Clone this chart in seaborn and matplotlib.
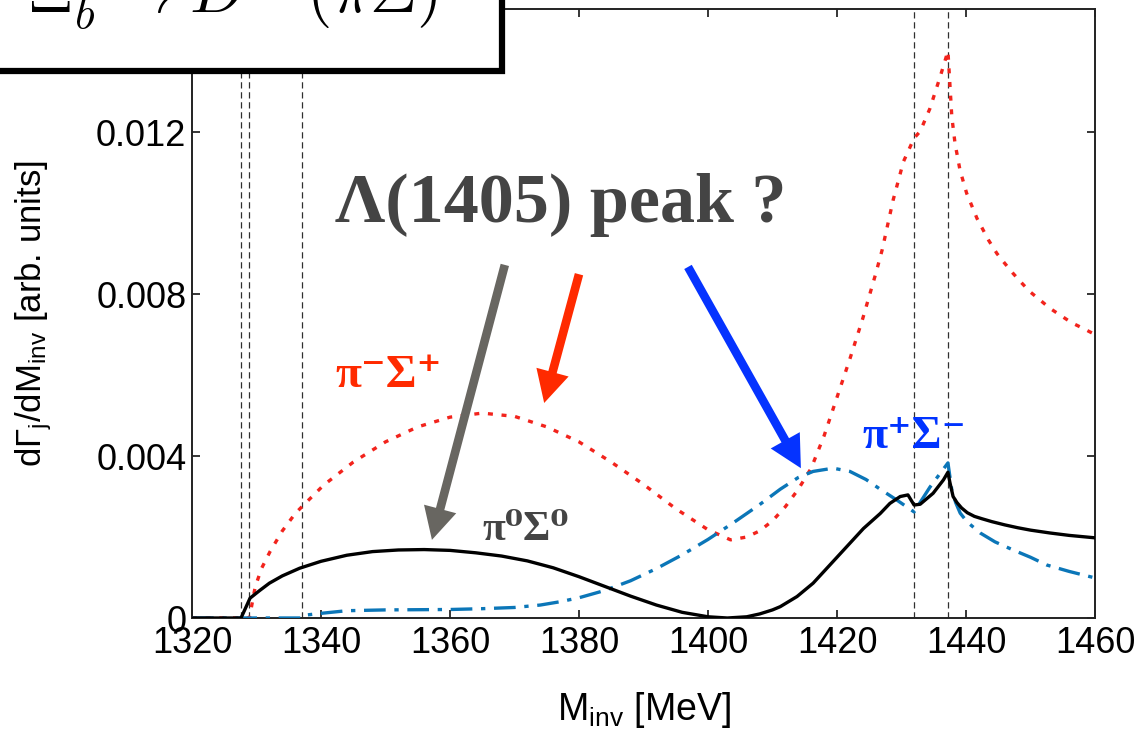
import matplotlib
matplotlib.use("Agg")
import matplotlib.pyplot as plt
import seaborn as sns
import pandas as pd
from matplotlib.patches import Rectangle

# ---------------- data ----------------
pi0s0_x = [1320, 1327.6, 1329.0, 1330.5, 1332, 1334, 1336.7, 1340, 1344, 1348, 1352, 1356, 1360,
           1364, 1368, 1372, 1376, 1380, 1384, 1388, 1392, 1396, 1400, 1403, 1406, 1408, 1410,
           1411.2, 1413.8, 1416.3, 1418.9, 1421.5, 1424.1, 1426.7, 1428.2, 1429.8, 1431.0, 1431.95,
           1432.9, 1434.9, 1436.5, 1437.2, 1437.5, 1438, 1438.6, 1439.3, 1440.2, 1441.3, 1442.5,
           1444, 1446, 1448, 1450, 1453, 1456, 1460]
pi0s0_y = [0, 0, 0.00049, 0.00068, 0.00086, 0.00104, 0.00123, 0.00140, 0.00155, 0.00164, 0.00168,
           0.00169, 0.00167, 0.00161, 0.00153, 0.00141, 0.00124, 0.00102, 0.00078, 0.00054, 0.00032,
           0.00014, 0.00003, 0.0, 0.00003, 0.00010, 0.00020, 0.00028, 0.00053, 0.00086, 0.00131,
           0.00176, 0.00221, 0.00258, 0.00283, 0.00300, 0.00304, 0.00279, 0.00281, 0.00308, 0.00341,
           0.00360, 0.00335, 0.00300, 0.00285, 0.00272, 0.00260, 0.00251, 0.00245, 0.00238, 0.00230,
           0.00223, 0.00217, 0.00210, 0.00204, 0.00198]

pimsp_x = [1320, 1328.9, 1329.8, 1330.8, 1332.1, 1334, 1336, 1337.3, 1340.4, 1345, 1350, 1355,
           1360, 1365, 1370, 1375, 1380, 1385, 1390, 1395, 1400, 1403.5, 1406, 1408, 1410, 1412,
           1414, 1416, 1418, 1420, 1422, 1424, 1426, 1427, 1428.7, 1430.3, 1431.95, 1432.9, 1434.4,
           1436.0, 1437.2, 1437.8, 1438.3, 1439.07, 1440.1, 1441.7, 1443.5, 1444.8, 1446.0, 1447.3,
           1448.6, 1449.9, 1451.5, 1453.0, 1454.6, 1456.4, 1458.2, 1460]
pimsp_y = [0, 0, 0.00077, 0.00123, 0.00164, 0.00215, 0.00258, 0.00279, 0.00328, 0.00385, 0.00435,
           0.00472, 0.00496, 0.00506, 0.00498, 0.00472, 0.00435, 0.00385, 0.00330, 0.00270, 0.00218,
           0.00193, 0.00200, 0.00215, 0.00240, 0.00275, 0.00318, 0.00370, 0.00450, 0.00545, 0.00640,
           0.00740, 0.00850, 0.00909, 0.01032, 0.01127, 0.01185, 0.01202, 0.01258, 0.01337, 0.01400,
           0.01238, 0.01172, 0.01106, 0.01049, 0.00987, 0.00933, 0.00900, 0.00876, 0.00851, 0.00828,
           0.00806, 0.00785, 0.00765, 0.00748, 0.00729, 0.00715, 0.00700]

pipsm_x = [1320, 1337.0, 1337.5, 1340.3, 1344, 1350, 1360, 1365, 1370, 1374, 1377, 1380, 1384,
           1388, 1392, 1396, 1400, 1404, 1408, 1411.2, 1414, 1416.3, 1419.4, 1422, 1424.5, 1426.7,
           1429.3, 1431.95, 1434.4, 1437.2, 1437.8, 1438.4, 1439.1, 1440.2, 1442.2, 1444.5, 1447.3,
           1450, 1452.5, 1456, 1460]
pipsm_y = [0, 0, 0.00007, 0.00012, 0.00018, 0.00020, 0.00021, 0.00023, 0.00026, 0.00032, 0.00040,
           0.00050, 0.00068, 0.00092, 0.00122, 0.00156, 0.00194, 0.00236, 0.00280, 0.00318, 0.00347,
           0.00362, 0.00370, 0.00362, 0.00342, 0.00318, 0.00291, 0.00262, 0.00323, 0.00383, 0.00316,
           0.00285, 0.00259, 0.00237, 0.00210, 0.00188, 0.00168, 0.00150, 0.00131, 0.00115, 0.00099]

thresholds = [1327.6, 1328.9, 1337.0, 1431.95, 1437.2]
xticks = [1320, 1340, 1360, 1380, 1400, 1420, 1440, 1460]
yticks = [0, 0.004, 0.008, 0.012]
ytick_labels = ["0", "0.004", "0.008", "0.012"]

# ---------------- styling ----------------
sns.set_theme(style="ticks")
plt.rcParams["font.family"] = ["Liberation Sans", "DejaVu Sans"]
plt.rcParams["mathtext.fontset"] = "custom"
plt.rcParams["mathtext.rm"] = "Liberation Sans"
plt.rcParams["mathtext.it"] = "Liberation Sans:italic"
plt.rcParams["mathtext.bf"] = "Liberation Sans:bold"

W, H = 1147, 734
fig = plt.figure(figsize=(W / 100, H / 100), dpi=100)
fig.patch.set_facecolor("white")
ax = fig.add_axes([192 / W, 1 - 618 / H, (1095 - 192) / W, (618 - 9) / H])

for xv in thresholds:
    ax.axvline(xv, color="#303030", lw=0.9, ls=(0, (5, 3)), zorder=1)

df_red = pd.DataFrame({"M": pimsp_x, "rate": pimsp_y})
df_blue = pd.DataFrame({"M": pipsm_x, "rate": pipsm_y})
df_black = pd.DataFrame({"M": pi0s0_x, "rate": pi0s0_y})

sns.lineplot(data=df_red, x="M", y="rate", ax=ax, color="#f2231c", linewidth=2.4,
             estimator=None, zorder=3)
ax.lines[-1].set_linestyle((0, (1.5, 2.6)))
sns.lineplot(data=df_blue, x="M", y="rate", ax=ax, color="#0b76b8", linewidth=2.4,
             estimator=None, zorder=3)
ax.lines[-1].set_linestyle((0, (6.5, 2.6, 1.3, 2.6)))
sns.lineplot(data=df_black, x="M", y="rate", ax=ax, color="black", linewidth=2.4,
             estimator=None, zorder=4)

ax.set_xlim(1320, 1460)
ax.set_ylim(0, 0.01504)
ax.set_xticks(xticks)
ax.set_xticklabels([str(v) for v in xticks])
ax.set_yticks(yticks)
ax.set_yticklabels(ytick_labels)
ax.tick_params(direction="in", length=6, width=1.1, top=True, right=True,
               labelsize=26, colors="black")
ax.tick_params(axis="x", pad=6)
ax.tick_params(axis="y", pad=4)
for s in ax.spines.values():
    s.set_visible(True)
    s.set_color("#222222")
    s.set_linewidth(1.4)

ax.set_xlabel(r"M$_\mathrm{inv}$ [MeV]", fontsize=27, color="black")
ax.set_ylabel(r"d$\Gamma_\mathrm{j}$/dM$_\mathrm{inv}$ [arb. units]", fontsize=25, color="black")
ax.xaxis.set_label_coords(0.5, -0.118)
ax.yaxis.set_label_coords(-0.153, 0.5)

# annotations
serif_bold = ["Liberation Serif", "DejaVu Serif"]
ax.text(1342.2, 0.00978, "Λ(1405) peak ?", fontsize=50.5, fontweight="bold",
        family=serif_bold, color="#444444", ha="left", va="baseline", zorder=6)
ax.text(1342.2, 0.0057, "π⁻Σ⁺", fontsize=34, fontweight="bold",
        family=serif_bold, color="#ff2a00", ha="left", va="baseline", zorder=6)
ax.text(1365.0, 0.00193, "π⁰Σ⁰", fontsize=30, fontweight="bold",
        family=serif_bold, color="#444444", ha="left", va="baseline", zorder=6)
ax.text(1423.9, 0.0042, "π⁺Σ⁻", fontsize=33, fontweight="bold",
        family=serif_bold, color="#0033ff", ha="left", va="baseline", zorder=6)

arrow_style = "simple,head_length=2.3,head_width=2.4,tail_width=0.62"
for (x0, y0, x1, y1, col) in [(1368.5, 0.00872, 1357.2, 0.00193, "#686661"),
                              (1380.0, 0.00849, 1374.6, 0.00531, "#ff2a00"),
                              (1396.9, 0.00867, 1414.4, 0.00370, "#0533ff")]:
    ax.annotate("", xy=(x1, y1), xytext=(x0, y0),
                arrowprops=dict(arrowstyle=arrow_style, color=col, lw=0,
                                mutation_scale=10, shrinkA=0, shrinkB=0), zorder=7)

# title box at top-left (partially cut off in the reference)
rect = Rectangle((-0.05, 1 - 71 / H), 502 / W + 0.05, 0.2, transform=fig.transFigure,
                 facecolor="white", edgecolor="black", linewidth=4.5, zorder=10)
fig.add_artist(rect)
fig.text(28 / W, 1 - 13 / H, r"$\Xi_b^0 \to D^-(\pi\Sigma)$", fontsize=47,
         math_fontfamily="cm", ha="left", va="baseline", color="black", zorder=11)

fig.savefig("out.png", dpi=100, facecolor="white")
